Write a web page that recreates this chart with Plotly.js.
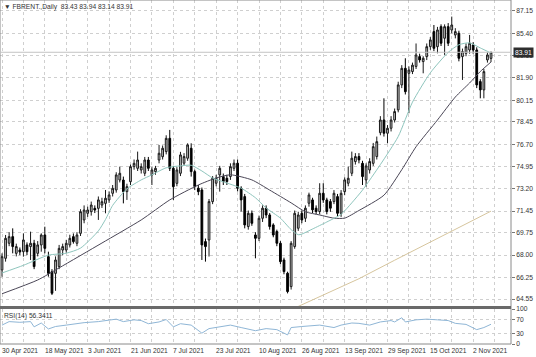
<!DOCTYPE html>
<html><head><meta charset="utf-8">
<script src="https://cdn.plot.ly/plotly-3.0.1.min.js"></script>
<style>html,body{margin:0;padding:0;background:#fff;}#chart{width:536px;height:357px;}</style>
</head><body><div id="chart"></div>
<script>
// ---- Candle data (daily bars, index 0 = 30 Apr 2021) ----
const openP = [66.84,67.75,68.93,69.45,68.14,68.40,68.27,68.80,68.67,68.93,68.14,68.80,69.58,67.88,66.70,66.57,67.10,68.40,68.40,68.80,
69.45,68.93,69.71,70.76,71.28,71.41,71.67,71.67,71.93,72.06,72.33,72.85,73.11,73.89,73.89,72.98,73.76,74.94,74.81,74.68,
74.42,75.46,74.29,74.55,75.46,75.72,76.12,77.16,74.81,73.63,74.42,75.21,75.60,76.38,74.55,73.25,73.11,69.06,69.19,72.20,
73.64,74.29,74.16,74.03,74.16,74.81,75.21,73.25,72.59,70.24,71.28,69.58,69.32,70.89,71.68,71.15,70.37,69.85,68.93,67.62,
66.58,65.53,68.67,70.11,71.28,70.89,72.07,72.33,71.68,71.42,72.85,72.33,72.20,72.20,72.59,71.28,72.98,73.64,74.42,75.34,
75.73,75.20,73.90,74.68,75.20,75.73,77.60,78.60,77.56,77.95,78.60,79.39,81.35,82.65,82.26,82.40,82.80,83.57,83.18,83.57,
84.35,85.53,84.35,85.92,85.01,85.92,85.66,85.27,85.40,83.57,83.83,84.09,84.48,84.09,81.61,80.96,83.31,83.43];
const highP = [68.14,69.58,69.80,70.10,68.90,68.60,69.71,69.00,69.84,69.20,69.10,69.71,70.23,68.27,66.90,67.90,68.80,68.90,69.20,69.60,
69.70,69.80,71.60,71.90,71.80,72.20,71.90,72.60,72.50,73.11,73.00,73.50,74.50,74.94,74.16,73.60,75.10,75.50,76.12,75.20,
75.70,75.70,74.90,75.00,76.64,76.60,77.40,77.82,75.00,74.90,76.10,76.00,76.77,76.77,74.70,73.50,73.30,69.30,72.40,74.20,
74.30,75.00,74.40,74.30,75.20,75.50,75.50,73.40,72.80,71.50,71.50,69.80,71.10,71.90,71.90,71.30,70.50,70.00,69.10,67.80,
66.70,69.10,71.50,71.40,71.50,71.90,72.90,72.50,71.90,73.64,73.64,72.50,72.40,73.10,72.80,73.10,74.10,74.94,76.12,76.00,
76.00,75.40,75.20,75.60,76.80,77.30,78.90,80.30,78.20,78.90,79.50,81.60,82.90,83.44,82.80,83.10,84.60,83.80,83.60,84.60,
85.10,86.05,85.90,86.10,86.10,86.20,86.71,85.80,85.60,84.20,84.60,85.27,84.70,84.30,81.80,82.60,83.90,83.94];
const lowP = [66.31,67.49,68.70,68.14,67.90,68.00,67.88,68.00,67.62,66.90,67.90,68.27,68.14,66.31,64.87,65.20,66.90,68.00,68.20,68.60,
68.90,68.70,69.50,70.50,71.00,71.10,71.30,70.76,71.70,71.28,72.10,72.60,72.90,73.70,72.06,72.33,73.50,74.70,74.60,74.40,
74.20,74.60,73.50,74.30,75.20,75.50,75.90,74.60,72.33,73.40,74.20,75.00,75.40,74.16,73.10,72.70,67.62,67.49,67.89,72.00,
73.40,72.98,73.50,73.50,73.90,74.60,73.00,71.42,70.10,70.00,70.30,67.75,69.10,70.60,70.90,70.00,69.40,68.70,67.30,66.50,
65.00,65.30,68.50,69.90,70.50,70.60,71.80,71.30,71.20,71.20,72.10,71.20,71.40,72.00,71.00,71.00,72.70,73.40,74.20,75.10,
75.20,73.50,73.37,74.40,75.00,75.50,77.40,77.30,76.77,77.70,78.40,79.20,81.10,80.60,79.13,82.20,82.60,83.10,82.26,83.30,
84.10,84.00,83.83,84.40,83.70,84.40,85.40,85.00,83.20,81.74,83.60,83.80,83.80,81.10,80.30,80.30,83.10,83.14];
const closeP = [67.88,69.32,69.45,68.67,68.67,68.25,69.19,68.27,68.93,67.10,68.80,69.58,68.53,66.57,65.01,67.62,68.53,68.67,68.93,69.32,
69.06,69.58,71.41,71.54,71.54,71.93,71.54,72.33,72.19,72.46,72.72,73.24,74.29,74.42,72.98,73.37,74.94,75.20,75.46,74.94,
75.46,74.81,74.68,74.81,75.99,76.38,77.16,74.81,73.37,74.68,75.86,75.73,76.64,74.55,73.38,72.98,68.80,68.67,72.20,74.03,
74.03,74.81,73.77,73.77,74.94,75.21,73.25,72.33,70.37,71.28,70.50,69.32,70.89,71.68,71.15,70.24,69.58,68.93,67.49,66.71,
65.14,68.93,71.28,71.15,70.76,71.68,72.72,71.55,71.42,72.85,72.33,71.42,71.68,72.85,71.28,72.85,73.90,74.03,75.60,75.73,
75.47,74.16,75.00,75.34,76.51,76.90,78.60,77.56,77.95,78.60,79.26,81.35,82.65,80.82,82.52,82.90,83.70,83.31,83.44,84.35,
84.88,84.22,85.66,84.62,85.92,84.62,86.05,85.53,83.44,83.96,84.35,84.62,84.09,81.35,80.96,82.39,83.70,83.91];

// ---- Moving averages (bar index, price) ----
const fastIdx = [0,6,13,18,22,27,29,31,35,39,42,46,50,53,56,59,62,67,71,74,78,81,83,84,87,91,95,98,101,106,111,115,120,125,128,131,134,137];
const fastVal = [66.6,67.2,68.0,68.15,68.55,69.9,70.8,71.9,73.2,73.9,74.3,74.85,75.0,75.05,74.6,74.05,73.75,73.25,72.5,71.7,70.9,70.0,69.6,69.65,70.05,70.6,71.2,72.1,73.1,75.1,77.3,80.0,82.3,83.9,84.5,84.65,84.25,83.85];
const slowIdx = [0,10,16,28,39,47,55,60,64,70,75,81,85,89,93,96,100,107,112,116,122,127,131,134,137];
const slowVal = [64.97,66.05,67.0,68.95,70.76,72.33,73.5,74.05,74.3,73.9,73.1,72.1,71.4,71.15,70.9,70.9,71.5,72.7,74.7,76.5,78.6,80.4,81.5,82.4,83.15];
const longIdx = [82,90,100,110,120,130,137];
const longVal = [63.85,64.85,66.15,67.6,69.0,70.45,71.45];

// ---- RSI(14) ----
const rsiIdx = [0,2,5,8,9,11,13,15,18,23,27,32,34,37,39,41,44,46,48,50,53,55,56,58,61,64,67,71,74,77,80,81,84,89,93,95,98,100,103,106,109,110,112,113,116,119,122,125,127,130,133,135,137];
const rsiVal = [54,64,62,64,49,60,43,50,54,61,64,71,64,69,67,58,63,70,49,58,54,40,31,44,50,54,47,38,44,41,26,47,50,54,47,54,60,59,54,63,67,63,75,63,69,71,69,67,59,56,41,47,56.34];

// ---- Axis labels ----
const priceTicks = [87.15,85.40,83.65,81.90,80.15,78.45,76.70,74.95,73.20,71.45,69.75,68.00,66.25,64.55];
const priceTickText = ['87.15','85.40','83.65','81.90','80.15','78.45','76.70','74.95','73.20','71.45','69.75','68.00','66.25','64.55'];
const gridIdx = [0,6,12,18,24,30,36,42,48,54,60,66,72,78,84,90,96,102,108,114,120,126,132,138];
const dateIdx = [0,12,24,36,48,60,72,84,96,108,120,132];
const dateText = ['30 Apr 2021','18 May 2021','3 Jun 2021','21 Jun 2021','7 Jul 2021','23 Jul 2021','10 Aug 2021','26 Aug 2021','13 Sep 2021','29 Sep 2021','15 Oct 2021','2 Nov 2021'];
const rsiTicks = [0,30,70,100];
const lastPrice = 83.91;

const barIdx = closeP.map((_, i) => i);
const FONT = 'Liberation Sans, Arial, sans-serif';
const FS = 6.7;
const GRID = '#cfcfcf';
const TXT = '#333333';

const traces = [
  {type:'candlestick', x:barIdx, open:openP, high:highP, low:lowP, close:closeP,
   xaxis:'x', yaxis:'y', whiskerwidth:0, hoverinfo:'skip',
   increasing:{line:{color:'#1a1a1a', width:1}, fillcolor:'#cdcdcd'},
   decreasing:{line:{color:'#000000', width:1}, fillcolor:'#000000'}},
  {type:'scatter', mode:'lines', x:longIdx, y:longVal, xaxis:'x', yaxis:'y', line:{color:'#d6c59d', width:1}, hoverinfo:'skip'},
  {type:'scatter', mode:'lines', x:slowIdx, y:slowVal, xaxis:'x', yaxis:'y', line:{color:'#4a4656', width:1, shape:'spline', smoothing:0.6}, hoverinfo:'skip'},
  {type:'scatter', mode:'lines', x:fastIdx, y:fastVal, xaxis:'x', yaxis:'y', line:{color:'#8ec5bd', width:1, shape:'spline', smoothing:0.6}, hoverinfo:'skip'},
  {type:'scatter', mode:'lines', x:rsiIdx, y:rsiVal, xaxis:'x', yaxis:'y2', line:{color:'#8fb6d6', width:1}, hoverinfo:'skip'}
];

const H = 344; // plot area height in px (357 - bottom margin 13)
const mainBottom = (H - 306) / H;
const rsiTop = (H - 309) / H;

const annotations = [
  {xref:'paper', yref:'paper', x:0.004, y:1, xanchor:'left', yanchor:'top', yshift:-1, showarrow:false,
   text:'▼ FBRENT.,Daily  83.43 83.94 83.14 83.91', font:{family:FONT, size:FS, color:TXT}},
  {xref:'paper', yref:'paper', x:0.004, y:rsiTop, xanchor:'left', yanchor:'top', yshift:-1, showarrow:false,
   text:'RSI(14) 56.3411', font:{family:FONT, size:FS, color:TXT}},
  {xref:'paper', yref:'y', x:1, y:lastPrice, xanchor:'left', yanchor:'middle', xshift:2, showarrow:false,
   text:'83.91', bgcolor:'#2e2e2e', borderpad:1, font:{family:FONT, size:FS, color:'#ffffff'}}
];
dateIdx.forEach((d, k) => annotations.push({
  xref:'x', yref:'paper', x:d, y:0, xanchor:'left', yanchor:'top', yshift:-1, xshift:-2, showarrow:false,
  text:dateText[k], font:{family:FONT, size:FS, color:TXT}
}));

const layout = {
  width:536, height:357,
  margin:{l:0, r:25, t:0, b:13},
  paper_bgcolor:'#ffffff', plot_bgcolor:'#ffffff',
  showlegend:false,
  font:{family:FONT, size:FS, color:TXT},
  xaxis:{
    anchor:'y2', range:[-0.56, 142.6], rangeslider:{visible:false},
    tickmode:'array', tickvals:gridIdx, showticklabels:false, ticks:'',
    showgrid:true, gridcolor:GRID, griddash:'dot', gridwidth:1,
    zeroline:false, showline:false
  },
  yaxis:{
    domain:[mainBottom, 1], range:[64.01, 88.01], side:'right', anchor:'x',
    tickmode:'array', tickvals:priceTicks, ticktext:priceTickText,
    showgrid:true, gridcolor:GRID, griddash:'dot', gridwidth:1,
    zeroline:false, showline:false, ticks:'outside', ticklen:3, tickcolor:'#777',
    tickfont:{family:FONT, size:FS, color:TXT}
  },
  yaxis2:{
    domain:[0, rsiTop], range:[0, 100], side:'right', anchor:'x',
    tickmode:'array', tickvals:rsiTicks,
    showgrid:true, gridcolor:GRID, griddash:'dot', gridwidth:1,
    zeroline:false, showline:false, ticks:'outside', ticklen:3, tickcolor:'#777',
    tickfont:{family:FONT, size:FS, color:TXT}
  },
  shapes:[
    {type:'rect', xref:'paper', yref:'paper', x0:0, x1:1, y0:0, y1:1, line:{color:'#8a8a8a', width:1}},
    {type:'line', xref:'paper', yref:'paper', x0:0, x1:1, y0:(mainBottom+rsiTop)/2, y1:(mainBottom+rsiTop)/2, line:{color:'#6a6a6a', width:3}},
    {type:'line', xref:'paper', yref:'y', x0:0, x1:1, y0:lastPrice, y1:lastPrice, line:{color:'#c4c4c4', width:1}}
  ],
  annotations:annotations
};

Plotly.newPlot('chart', traces, layout, {staticPlot:true, displayModeBar:false});
</script>
</body></html>
